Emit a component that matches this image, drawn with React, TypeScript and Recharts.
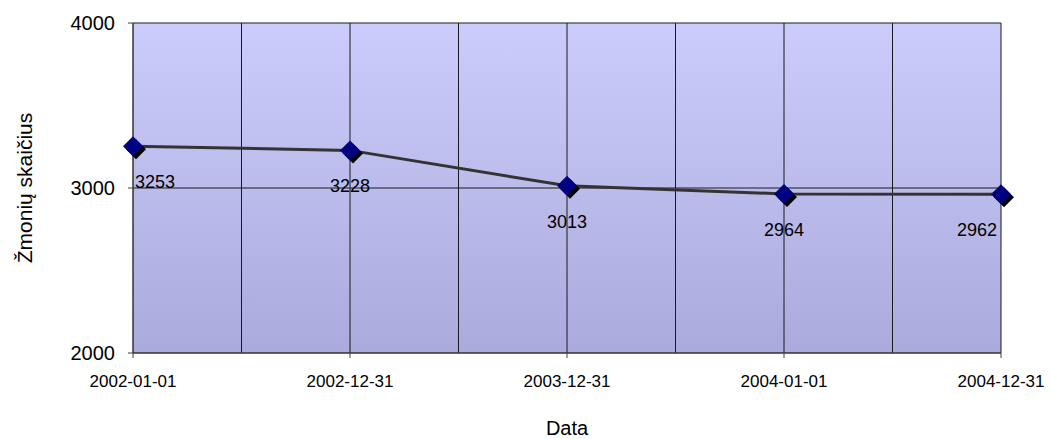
import {
  LineChart,
  Line,
  XAxis,
  YAxis,
  CartesianGrid,
  ReferenceLine,
  LabelList,
} from "recharts";

const CATEGORIES = ["2002-01-01", "2002-12-31", "2003-12-31", "2004-01-01", "2004-12-31"];
const VALUES = [3253, 3228, 3013, 2964, 2962];
const Y_TICKS = [2000, 3000, 4000];
const MID_LINES = [0.5, 1.5, 2.5, 3.5];

const data = CATEGORIES.map((date, i) => ({ idx: i, date, value: VALUES[i] }));

const FONT = "'Liberation Sans', Arial, sans-serif";

function Diamond(props: any) {
  const { cx, cy } = props;
  if (cx == null || cy == null) return null;
  const r = 10;
  const d = (x: number, y: number) =>
    `M${x},${y - r} L${x + r},${y} L${x},${y + r} L${x - r},${y} Z`;
  return (
    <g>
      <path d={d(cx + 3, cy + 3)} fill="#000" />
      <path d={d(cx, cy)} fill="#000080" />
    </g>
  );
}

function ValueLabel(props: any) {
  const { x, y, value, index } = props;
  const last = CATEGORIES.length - 1;
  const anchor = index === 0 ? "start" : index === last ? "end" : "middle";
  const dx = index === 0 ? 2 : index === last ? -4 : 0;
  return (
    <text
      x={x + dx}
      y={y + 42}
      textAnchor={anchor}
      fontSize={18}
      fontFamily={FONT}
      fill="#000"
    >
      {value}
    </text>
  );
}

export default function App() {
  return (
    <div style={{ position: "absolute", left: 0, top: 0 }}>
      <LineChart
        width={1051}
        height={439}
        data={data}
        margin={{ top: 23, right: 50, bottom: 0, left: 0 }}
      >
        <defs>
          <linearGradient id="plotBg" x1="0" y1="0" x2="0" y2="1">
            <stop offset="0%" stopColor="#ccccfc" />
            <stop offset="100%" stopColor="#aaaadc" />
          </linearGradient>
        </defs>
        <CartesianGrid fill="url(#plotBg)" stroke="#1a1a1a" strokeWidth={1} />
        {MID_LINES.map((m) => (
          <ReferenceLine key={m} x={m} stroke="#1a1a1a" strokeWidth={1} />
        ))}
        <XAxis
          dataKey="idx"
          type="number"
          domain={[0, CATEGORIES.length - 1]}
          ticks={CATEGORIES.map((_, i) => i)}
          tickFormatter={(i: number) => CATEGORIES[i]}
          height={86}
          tickSize={5}
          tickMargin={17}
          stroke="#404040"
          tick={{ fill: "#000", fontSize: 17, fontFamily: FONT }}
          label={{
            value: "Data",
            position: "insideBottom",
            offset: 4,
            fill: "#000",
            fontSize: 20,
            fontFamily: FONT,
          }}
        />
        <YAxis
          domain={[2000, 4000]}
          ticks={Y_TICKS}
          width={133}
          tickSize={5}
          tickMargin={13}
          stroke="#404040"
          tick={{ fill: "#000", fontSize: 20, fontFamily: FONT }}
          label={{
            value: "Žmonių skaičius",
            angle: -90,
            position: "insideLeft",
            offset: 25,
            style: { textAnchor: "middle" },
            fill: "#000",
            fontSize: 21,
            fontFamily: FONT,
          }}
        />
        <Line
          type="linear"
          dataKey="value"
          stroke="#333"
          strokeWidth={3}
          dot={<Diamond />}
          activeDot={false}
          isAnimationActive={false}
        >
          <LabelList dataKey="value" content={<ValueLabel />} />
        </Line>
      </LineChart>
    </div>
  );
}
